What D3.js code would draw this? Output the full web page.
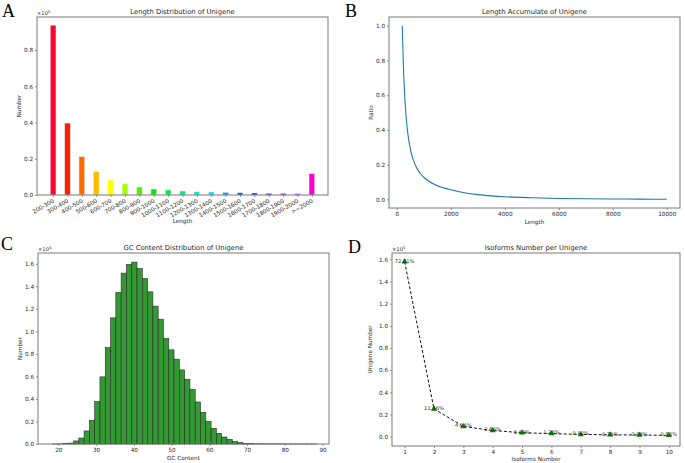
<!DOCTYPE html>
<html><head><meta charset="utf-8">
<script src="https://cdn.jsdelivr.net/npm/d3@7"></script>
<style>body{margin:0;background:#fff} svg{display:block}</style>
</head><body><svg id="c" width="685" height="463"></svg>
<script>
// ---------- DATA ----------
// Panel A: Length distribution (x 1e5)
const lengthCats = ["200-300","300-400","400-500","500-600","600-700","700-800","800-900","900-1000","1000-1100","1100-1200","1200-1300","1300-1400","1400-1500","1500-1600","1600-1700","1700-1800","1800-1900","1900-2000",">=2000"];
const lengthCounts = [0.937,0.397,0.2125,0.129,0.083,0.061,0.044,0.033,0.028,0.022,0.018,0.017,0.015,0.013,0.011,0.009,0.009,0.007,0.118];
const lengthColors = ["#ff0033","#ff2200","#ff6a00","#ffbb00","#ffff00","#aaff00","#55ee00","#00ee00","#00ee44","#00ee88","#00eecc","#00ddff","#0099ff","#0055ff","#0022ff","#3300ff","#7700ff","#bb00ff","#ff00cc"];
const lengthYTicks = [0.0,0.2,0.4,0.6,0.8];

// Panel B: Length accumulate
const accLength = [200,250,300,400,500,600,700,800,900,1000,1200,1400,1600,1800,2000,2500,3000,3500,4000,5000,6000,7000,8000,9000,10000];
const accRatio  = [1.0,0.74,0.570,0.388,0.291,0.231,0.192,0.164,0.143,0.127,0.103,0.086,0.073,0.063,0.055,0.038,0.027,0.020,0.015,0.009,0.005,0.003,0.002,0.001,0.0];
const accXTicks = [0,2000,4000,6000,8000,10000];
const accYTicks = [0.0,0.2,0.4,0.6,0.8,1.0];

// Panel C: GC content histogram (x 1e4), 50 bins
const gcBinStart = 18.4, gcBinWidth = 1.402;
const gcCounts = [0.0005,0.001,0.003,0.008,0.027,0.053,0.116,0.21,0.376,0.596,
                  0.856,1.12,1.345,1.517,1.594,1.615,1.558,1.47,1.351,1.224,
                  1.108,0.936,0.836,0.753,0.658,0.575,0.483,0.373,0.281,0.201,
                  0.139,0.095,0.062,0.041,0.021,0.012,0.006,0.003,0.002,0.0015,
                  0.001,0.001,0.0008,0.0006,0.0005,0.0004,0.0004,0.0003,0.0003,0.0003];
const gcXTicks = [20,30,40,50,60,70,80,90];
const gcYTicks = [0.0,0.2,0.4,0.6,0.8,1.0,1.2,1.4,1.6];

// Panel D: Isoforms per unigene (x 1e5)
const isoNumbers = [1,2,3,4,5,6,7,8,9,10];
const isoCounts = [1.578,0.2505,0.092,0.0555,0.0353,0.0273,0.0199,0.0165,0.0147,0.0115];
const isoLabels = ["72.81%","11.56%","4.24%","2.56%","1.63%","1.26%","0.92%","0.76%","0.68%","0.53%"];
const isoYTicks = [0.0,0.2,0.4,0.6,0.8,1.0,1.2,1.4,1.6];

// ---------- STYLE ----------
const FONT = "DejaVu Sans";
const TICK_FS = 5.7, TITLE_FS = 6.8, LABEL_FS = 5.7;
const TXT = "#262626", FRAME = "#7a7a7a";

const svg = d3.select("#c");

function frame(b){
  svg.append("rect").attr("x",b.l).attr("y",b.t).attr("width",b.r-b.l).attr("height",b.b-b.t)
    .attr("fill","none").attr("stroke",FRAME).attr("stroke-width",1);
}
function styleAxis(g){
  g.select(".domain").remove();
  g.selectAll("line").attr("stroke",FRAME).attr("stroke-width",0.8);
  g.selectAll("text").attr("font-family",FONT).attr("font-size",TICK_FS).attr("fill",TXT);
}
function texts(b, title, xl, yl, xlY, ylX, offset){
  const cx=(b.l+b.r)/2, cy=(b.t+b.b)/2;
  svg.append("text").attr("x",cx).attr("y",b.t-3).attr("text-anchor","middle")
    .attr("font-family",FONT).attr("font-size",TITLE_FS).attr("fill",TXT).text(title);
  svg.append("text").attr("x",cx).attr("y",xlY).attr("text-anchor","middle")
    .attr("font-family",FONT).attr("font-size",LABEL_FS).attr("fill",TXT).text(xl);
  svg.append("text").attr("transform",`translate(${ylX},${cy}) rotate(-90)`).attr("text-anchor","middle")
    .attr("font-family",FONT).attr("font-size",LABEL_FS).attr("fill",TXT).text(yl);
  if(offset){
    const t = svg.append("text").attr("x",b.l).attr("y",b.t-2)
      .attr("font-family",FONT).attr("font-size",5.2).attr("fill",TXT);
    t.append("tspan").text("×10");
    t.append("tspan").attr("font-size",3.8).attr("dy",-2.2).text(offset);
  }
}
function letter(ch,x,y){
  svg.append("text").attr("x",x).attr("y",y).attr("font-family","Liberation Serif")
    .attr("font-size",18).attr("fill","#000").text(ch);
}

// ---------- PANEL A ----------
{
  const b={l:37,r:328,t:17,b:195};
  const x=d3.scaleLinear().domain([-1.12,19.12]).range([b.l,b.r]);
  const y=d3.scaleLinear().domain([0,0.982]).range([b.b,b.t]);
  const w=0.4;
  svg.append("g").selectAll("rect").data(lengthCounts).join("rect")
    .attr("x",(d,i)=>x(i-w/2)).attr("width",(d,i)=>x(i+w/2)-x(i-w/2))
    .attr("y",d=>y(d)).attr("height",d=>y(0)-y(d))
    .attr("fill",(d,i)=>lengthColors[i]).attr("stroke","#f3f3f3").attr("stroke-width",0.5);
  const ax=svg.append("g").attr("transform",`translate(0,${b.b})`)
    .call(d3.axisBottom(x).tickValues(d3.range(lengthCats.length)).tickFormat(i=>lengthCats[i]).tickSize(2));
  styleAxis(ax);
  ax.selectAll("text").attr("text-anchor","end").attr("x",0).attr("y",0).attr("dy",0)
    .attr("transform","translate(1,7) rotate(-30)");
  const ay=svg.append("g").attr("transform",`translate(${b.l},0)`)
    .call(d3.axisLeft(y).tickValues(lengthYTicks).tickFormat(d3.format(".1f")).tickSize(2).tickPadding(2));
  styleAxis(ay);
  frame(b);
  texts(b,"Length Distribution of Unigene","Length","Number",223,21,"5");
  letter("A",2,16.5);
}

// ---------- PANEL B ----------
{
  const b={l:389,r:680,t:17,b:208};
  const x=d3.scaleLinear().domain([-290,10490]).range([b.l,b.r]);
  const y=d3.scaleLinear().domain([-0.05,1.05]).range([b.b,b.t]);
  const line=d3.line().x((d,i)=>x(accLength[i])).y(d=>y(d)).curve(d3.curveMonotoneX);
  svg.append("path").datum(accRatio).attr("d",line).attr("fill","none")
    .attr("stroke","#1f77b4").attr("stroke-width",1.1);
  const ax=svg.append("g").attr("transform",`translate(0,${b.b})`)
    .call(d3.axisBottom(x).tickValues(accXTicks).tickFormat(d3.format("d")).tickSize(2).tickPadding(2));
  styleAxis(ax);
  const ay=svg.append("g").attr("transform",`translate(${b.l},0)`)
    .call(d3.axisLeft(y).tickValues(accYTicks).tickFormat(d3.format(".1f")).tickSize(2).tickPadding(2));
  styleAxis(ay);
  frame(b);
  texts(b,"Length Accumulate of Unigene","Length","Ratio",224,373,null);
  letter("B",345,16.5);
}

// ---------- PANEL C ----------
{
  const b={l:38,r:329,t:253,b:444};
  const x=d3.scaleLinear().domain([14.6,91.7]).range([b.l,b.r]);
  const y=d3.scaleLinear().domain([0,1.696]).range([b.b,b.t]);
  svg.append("g").selectAll("rect").data(gcCounts).join("rect")
    .attr("x",(d,i)=>x(gcBinStart+i*gcBinWidth)).attr("width",(d,i)=>x(gcBinStart+(i+1)*gcBinWidth)-x(gcBinStart+i*gcBinWidth))
    .attr("y",d=>y(d)).attr("height",d=>y(0)-y(d))
    .attr("fill","#339933").attr("stroke","#2b2b2b").attr("stroke-width",0.6);
  const ax=svg.append("g").attr("transform",`translate(0,${b.b})`)
    .call(d3.axisBottom(x).tickValues(gcXTicks).tickFormat(d3.format("d")).tickSize(2).tickPadding(2));
  styleAxis(ax);
  const ay=svg.append("g").attr("transform",`translate(${b.l},0)`)
    .call(d3.axisLeft(y).tickValues(gcYTicks).tickFormat(d3.format(".1f")).tickSize(2).tickPadding(2));
  styleAxis(ay);
  frame(b);
  texts(b,"GC Content Distribution of Unigene","GC Content","Number",460,22,"4");
  letter("C",1,250);
}

// ---------- PANEL D ----------
{
  const b={l:392,r:680,t:253,b:446};
  const x=d3.scaleLinear().domain([0.57,10.38]).range([b.l,b.r]);
  const y=d3.scaleLinear().domain([-0.0845,1.657]).range([b.b,b.t]);
  const line=d3.line().x((d,i)=>x(isoNumbers[i])).y(d=>y(d));
  svg.append("path").datum(isoCounts).attr("d",line).attr("fill","none")
    .attr("stroke","#111").attr("stroke-width",1).attr("stroke-dasharray","3,2");
  const tri=d3.symbol().type(d3.symbolTriangle).size(16);
  svg.append("g").selectAll("path").data(isoCounts).join("path")
    .attr("transform",(d,i)=>`translate(${x(isoNumbers[i])},${y(d)})`).attr("d",tri).attr("fill","#008000");
  svg.append("g").selectAll("text").data(isoCounts).join("text")
    .attr("x",(d,i)=>x(isoNumbers[i])).attr("y",d=>y(d)+0.8).attr("text-anchor","middle")
    .attr("font-family",FONT).attr("font-size",5.2).attr("fill","#333").text((d,i)=>isoLabels[i]);
  const ax=svg.append("g").attr("transform",`translate(0,${b.b})`)
    .call(d3.axisBottom(x).tickValues(isoNumbers).tickFormat(d3.format("d")).tickSize(2).tickPadding(2));
  styleAxis(ax);
  const ay=svg.append("g").attr("transform",`translate(${b.l},0)`)
    .call(d3.axisLeft(y).tickValues(isoYTicks).tickFormat(d3.format(".1f")).tickSize(2).tickPadding(2));
  styleAxis(ay);
  frame(b);
  texts(b,"Isoforms Number per Unigene","Isoforms Number","Unigene Number",461,372,"5");
  letter("D",348,253);
}
</script></body></html>
